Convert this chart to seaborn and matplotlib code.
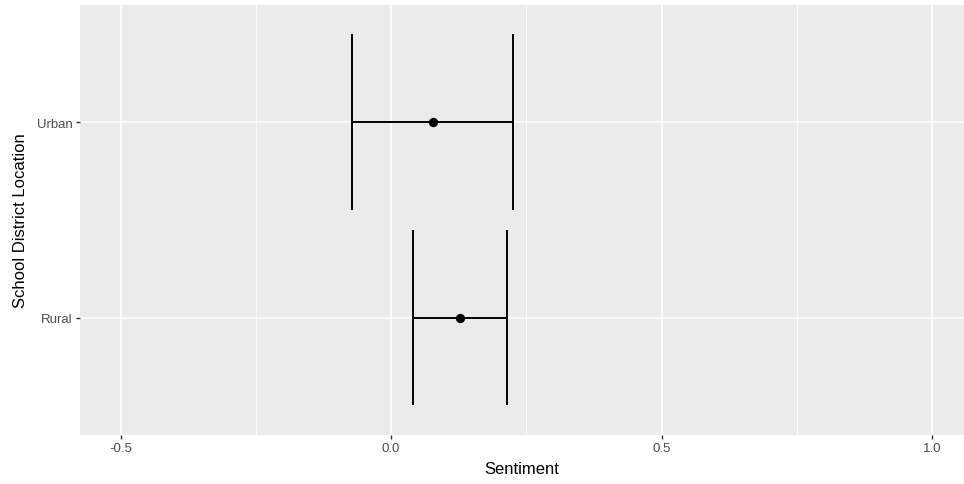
import numpy as np
import pandas as pd
import matplotlib
matplotlib.use("Agg")
import matplotlib.pyplot as plt
import seaborn as sns

# values
locations = ["Rural", "Urban"]
mean_sentiment = [0.127, 0.077]
ci_lower = [0.040, -0.073]
ci_upper = [0.214, 0.226]

x_ticks = [-0.5, 0.0, 0.5, 1.0]
x_tick_labels = ["-0.5", "0.0", "0.5", "1.0"]

sns.set_theme(style="darkgrid")
plt.rcParams["font.family"] = ["Liberation Sans", "DejaVu Sans"]

df = pd.DataFrame({
    "location": locations,
    "mean": mean_sentiment,
    "lo": ci_lower,
    "hi": ci_upper,
})
df["pos"] = np.arange(len(df))

fig = plt.figure(figsize=(9.64, 4.85), dpi=100)
ax = fig.add_axes([80 / 964, (485 - 435.7) / 485, (964 - 80) / 964, (435.7 - 6) / 485])
ax.set_facecolor("#EBEBEB")

# error bars: horizontal span plus vertical end caps (width 0.9)
ax.hlines(df["pos"], df["lo"], df["hi"], color="black", linewidth=1.4, zorder=3)
half = 0.45
for col in ["lo", "hi"]:
    ax.vlines(df[col], df["pos"] - half, df["pos"] + half, color="black", linewidth=1.4, zorder=3)

sns.scatterplot(data=df, x="mean", y="pos", color="black", s=45, edgecolor="black",
                linewidth=0, zorder=4, ax=ax)

ax.set_xlim(-0.575, (964 - 391.3) / 541)
ax.set_ylim(-0.6, 1.6)

ax.set_xticks(x_ticks)
ax.set_xticklabels(x_tick_labels)
ax.set_xticks([-0.25, 0.25, 0.75], minor=True)
ax.set_yticks(df["pos"])
ax.set_yticklabels(df["location"])

ax.grid(which="major", color="white", linewidth=1.1)
ax.grid(which="minor", axis="x", color="white", linewidth=0.55)
ax.grid(which="minor", axis="y", visible=False)
for s in ax.spines.values():
    s.set_visible(False)

ax.tick_params(axis="both", which="major", length=3, width=1, color="#333333",
               labelcolor="#4D4D4D", labelsize=9.5, pad=2.5, direction="out",
               bottom=True, left=True)
ax.tick_params(axis="both", which="minor", length=0)

ax.set_xlabel("Sentiment", fontsize=12, color="black", labelpad=5)
ax.set_ylabel("School District Location", fontsize=12, color="black", labelpad=6)

fig.savefig("out.png", dpi=100)
